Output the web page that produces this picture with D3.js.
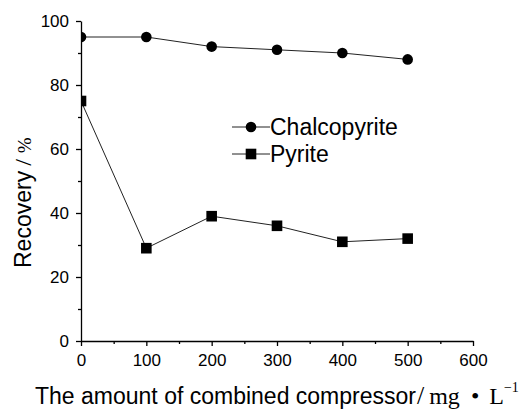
<!DOCTYPE html>
<meta charset="utf-8">
<title>Recovery vs combined compressor</title>
<style>
body { margin: 0; background: #fff; }
svg { font-family: "Liberation Sans", Arial, sans-serif; }
.axis path, .axis line { stroke: #000; stroke-width: 1.3px; }
.axis text { font-size: 17px; fill: #000; }
.series path { fill: none; stroke: #222; stroke-width: 1px; }
.legend text { font-size: 23px; }
.title { font-size: 23px; }
.serif { font-family: "Liberation Serif", "Times New Roman", serif; }
</style>
<body>
<script src="https://cdn.jsdelivr.net/npm/d3@7"></script>
<script>

var dosage = [0, 100, 200, 300, 400, 500];
var chalcopyrite = [95, 95, 92, 91, 90, 88];
var pyrite = [75, 29, 39, 36, 31, 32];
var xTicks = [0, 100, 200, 300, 400, 500, 600];
var yTicks = [0, 20, 40, 60, 80, 100];
var seriesNames = ["Chalcopyrite", "Pyrite"];

var W = 521, H = 411;
var margin = {top: 21, right: 48, bottom: 70, left: 81},
    width = W - margin.left - margin.right,
    height = H - margin.top - margin.bottom;

var x = d3.scaleLinear().domain([0, 600]).range([0, width]);
var y = d3.scaleLinear().domain([0, 100]).range([height, 0]);

var svg = d3.select("body").append("svg")
    .attr("width", W)
    .attr("height", H);

var g = svg.append("g")
    .attr("transform", "translate(" + margin.left + "," + margin.top + ")");

g.append("clipPath").attr("id", "plot")
  .append("rect").attr("width", width).attr("height", height + 1).attr("y", -1);

// minor ticks
g.append("g")
    .attr("class", "axis")
    .attr("transform", "translate(0," + height + ")")
    .call(d3.axisBottom(x).tickValues(d3.range(50, 600, 100)).tickSize(3).tickFormat(""))
    .select(".domain").remove();
g.append("g")
    .attr("class", "axis")
    .call(d3.axisLeft(y).tickValues(d3.range(10, 100, 20)).tickSize(3).tickFormat(""))
    .select(".domain").remove();

g.append("g")
    .attr("class", "axis")
    .attr("transform", "translate(0," + height + ")")
    .call(d3.axisBottom(x).tickValues(xTicks).tickSize(5).tickPadding(8).tickSizeOuter(0));

g.append("g")
    .attr("class", "axis")
    .call(d3.axisLeft(y).tickValues(yTicks).tickSize(5).tickPadding(7).tickSizeOuter(0));

var line = d3.line()
    .x(function(d) { return x(d[0]); })
    .y(function(d) { return y(d[1]); });

var sets = [chalcopyrite, pyrite].map(function(vals) {
  return dosage.map(function(xv, i) { return [xv, vals[i]]; });
});

var series = g.append("g").attr("class", "series").attr("clip-path", "url(#plot)");

series.selectAll("path")
    .data(sets)
  .enter().append("path")
    .attr("d", line);

series.selectAll("circle")
    .data(sets[0])
  .enter().append("circle")
    .attr("cx", function(d) { return x(d[0]); })
    .attr("cy", function(d) { return y(d[1]); })
    .attr("r", 5.3);

series.selectAll("rect")
    .data(sets[1])
  .enter().append("rect")
    .attr("x", function(d) { return x(d[0]) - 5.3; })
    .attr("y", function(d) { return y(d[1]) - 5.3; })
    .attr("width", 10.6)
    .attr("height", 10.6);

// legend
var legend = svg.append("g").attr("class", "legend");
var rows = legend.selectAll("g")
    .data(seriesNames)
  .enter().append("g")
    .attr("transform", function(d, i) { return "translate(232," + (127 + i * 27) + ")"; });
rows.append("line")
    .attr("x1", 0).attr("x2", 38)
    .attr("stroke", "#222").attr("stroke-width", 1);
rows.filter(function(d, i) { return i === 0; }).append("circle")
    .attr("cx", 19).attr("r", 5.3);
rows.filter(function(d, i) { return i === 1; }).append("rect")
    .attr("x", 19 - 5.3).attr("y", -5.3).attr("width", 10.6).attr("height", 10.6);
rows.append("text")
    .attr("x", 38)
    .attr("y", 8)
    .text(function(d) { return d; });

// axis titles
var xt = svg.append("text")
    .attr("class", "title")
    .attr("x", 35)
    .attr("y", 404);
xt.append("tspan").text("The amount of combined compressor");
xt.append("tspan").attr("class", "serif").attr("font-size", 26).attr("dx", 1).text("/");
xt.append("tspan").attr("class", "serif").attr("font-size", 24).attr("dx", 5).text("mg");
xt.append("tspan").attr("class", "serif").attr("font-size", 24).attr("dx", 11).text("\u2022");
xt.append("tspan").attr("class", "serif").attr("font-size", 24).attr("dx", 10).text("L");
xt.append("tspan").attr("class", "serif").attr("dy", -12).attr("font-size", 14).text("\u22121");

var yt = svg.append("text")
    .attr("class", "title")
    .attr("transform", "translate(31,268) rotate(-90)");
yt.append("tspan").text("Recovery");
yt.append("tspan").attr("class", "serif").attr("dx", 5).attr("font-size", 24).text("/");
yt.append("tspan").attr("class", "serif").attr("dx", 6).attr("font-size", 19).text("%");

</script>
